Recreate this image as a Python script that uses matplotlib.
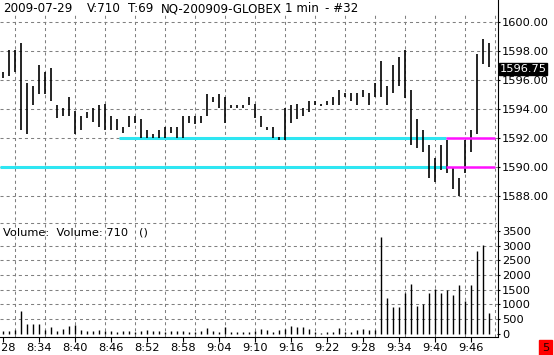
import matplotlib
matplotlib.use("Agg")
import matplotlib.pyplot as plt
from matplotlib.lines import Line2D

# ---------------- data ----------------
highs = [1596.56, 1598.05, 1598.05, 1598.52, 1595.77, 1595.58, 1597.02, 1596.56, 1596.84, 1594.27,
         1594.09, 1594.85, 1593.86, 1593.54, 1593.81, 1594.09, 1594.27, 1594.32, 1593.52, 1593.31,
         1592.74, 1593.52, 1593.54, 1593.31, 1592.56, 1592.28, 1592.56, 1592.74, 1592.74, 1592.74,
         1593.52, 1593.52, 1593.52, 1593.52, 1595.03, 1594.80, 1595.03, 1594.80, 1594.27, 1594.27,
         1594.27, 1594.80, 1594.32, 1593.52, 1592.74, 1592.74, 1592.05, 1594.05, 1594.27, 1594.32,
         1594.05, 1594.55, 1594.55, 1594.32, 1594.55, 1594.85, 1595.31, 1595.08, 1595.08, 1595.08,
         1595.31, 1595.08, 1595.81, 1597.30, 1595.58, 1597.02, 1597.55, 1598.05, 1595.31, 1593.31,
         1592.56, 1591.53, 1590.61, 1591.53, 1591.87, 1589.92, 1589.24, 1591.87, 1592.56, 1597.78,
         1598.81, 1598.52]
lows = [1596.11, 1596.29, 1596.56, 1592.56, 1592.28, 1594.27, 1595.03, 1595.03, 1594.57, 1593.36,
        1593.54, 1593.54, 1592.28, 1592.58, 1593.36, 1593.09, 1592.74, 1592.56, 1592.56, 1592.56,
        1592.33, 1592.78, 1593.02, 1592.03, 1592.03, 1592.03, 1592.03, 1592.03, 1592.33, 1592.03,
        1592.03, 1593.06, 1592.97, 1593.06, 1593.52, 1594.50, 1594.09, 1593.02, 1594.09, 1594.09,
        1594.09, 1594.27, 1593.36, 1592.78, 1592.56, 1592.03, 1591.90, 1591.90, 1593.06, 1593.31,
        1593.52, 1593.81, 1594.27, 1594.23, 1594.27, 1594.27, 1594.27, 1594.80, 1594.57, 1594.27,
        1594.85, 1594.27, 1594.85, 1594.85, 1594.27, 1595.08, 1595.58, 1594.74, 1591.53, 1591.30,
        1591.07, 1589.28, 1589.00, 1589.81, 1589.58, 1588.48, 1588.04, 1589.58, 1591.07, 1592.28,
        1597.07, 1596.87]
volumes = [80, 100, 120, 760, 340, 340, 330, 110, 230, 100,
           160, 260, 280, 110, 100, 90, 110, 80, 100, 70,
           90, 100, 60, 90, 110, 80, 90, 70, 100, 80,
           90, 70, 60, 100, 190, 90, 60, 220, 60, 50,
           70, 60, 90, 170, 130, 70, 110, 150, 250, 220,
           220, 150, 50, 30, 50, 50, 200, 50, 60, 120,
           150, 110, 110, 3300, 1230, 920, 920, 1400, 1700, 950,
           1000, 1400, 1510, 1400, 1490, 1320, 1660, 1125, 1660, 2830,
           3020, 710]
time_labels = ["8:28", "8:34", "8:40", "8:46", "8:52", "8:58", "9:04", "9:10",
               "9:16", "9:22", "9:28", "9:34", "9:40", "9:46"]
label_step = 6
price_levels = [1588, 1590, 1592, 1594, 1596, 1598, 1600]
vol_levels = [0, 500, 1000, 1500, 2000, 2500, 3000, 3500]
vol_grid = [500, 1000, 1500, 2000, 2500, 3000]
last_price = 1596.75
level_hi = 1592.0
level_lo = 1590.0

# ---------------- figure ----------------
W, H = 554, 355
plt.rcParams['lines.scale_dashes'] = False
plt.rcParams['font.family'] = ['DejaVu Sans']
fig = plt.figure(figsize=(W / 100, H / 100), dpi=100)
fig.patch.set_facecolor('white')

def fy(px):
    return (H - px) / H

xl, xr = -0.55, 82.283
ax_p = fig.add_axes([0, fy(220), 497 / W, (220 - 13) / H])
ax_v = fig.add_axes([0, fy(336.7), 497 / W, (336.7 - 220) / H])

grid_kw = dict(color='#808080', lw=0.75, ls=(0, (2.2, 2.2)), zorder=0)
xs = list(range(len(highs)))
vgrid_x = [1.95 + 5 * k for k in range(17)]

for ax in (ax_p, ax_v):
    ax.set_xlim(xl, xr)
    ax.set_facecolor('white')
    for s in ax.spines.values():
        s.set_visible(False)
    for gx in vgrid_x:
        ax.axvline(gx, **grid_kw)

# price pane
ax_p.set_ylim(1600 - (220 - 21.7) / 14.55, 1600 + (21.7 - 13) / 14.55)
for lv in price_levels:
    ax_p.axhline(lv, **grid_kw)
ax_p.vlines(xs, lows, highs, color='black', lw=1.2, zorder=3)

cyan = '#2ee6f2'
mag = '#ff10ff'
split = 73.8
ax_p.plot([19.2, split], [level_hi, level_hi], color=cyan, lw=2.2, zorder=2, solid_capstyle='butt')
ax_p.plot([xl, split], [level_lo, level_lo], color=cyan, lw=2.2, zorder=2, solid_capstyle='butt')
ax_p.plot([split, 81.9], [level_hi, level_hi], color=mag, lw=1.8, zorder=4, solid_capstyle='butt')
ax_p.plot([split, 81.9], [level_lo, level_lo], color=mag, lw=1.8, zorder=4, solid_capstyle='butt')

ax_p.set_xticks([])
ax_p.yaxis.tick_right()
ax_p.set_yticks(price_levels)
ax_p.set_yticklabels([f"{v:.2f}" for v in price_levels])
ax_p.tick_params(axis='y', length=2.4, width=0.8, pad=1.2, labelsize=8.2, colors='black')

ax_p.text(1.005, last_price, f"{last_price:.2f}", transform=ax_p.get_yaxis_transform(),
          ha='left', va='center', fontsize=8.2, color='white', zorder=10,
          bbox=dict(facecolor='black', edgecolor='black', pad=0.6))

# volume pane
ax_v.set_ylim((333.7 - 336.7) / 0.02934, (333.7 - 220) / 0.02934)
for lv in vol_grid:
    ax_v.axhline(lv, **grid_kw)
ax_v.axhline((333.7 - 222.7) / 0.02934, **grid_kw)
ax_v.vlines(xs, 0, volumes, color='black', lw=1.0, zorder=3)
ax_v.spines['bottom'].set_visible(True)
ax_v.spines['bottom'].set_linewidth(0.8)
ax_v.yaxis.tick_right()
ax_v.set_yticks(vol_levels)
ax_v.set_yticklabels([str(v) for v in vol_levels])
ax_v.tick_params(axis='y', length=2.4, width=0.8, pad=1.2, labelsize=8.2)
ax_v.set_xticks([i * label_step for i in range(len(time_labels))])
ax_v.set_xticklabels(time_labels)
ax_v.tick_params(axis='x', length=3.6, width=0.8, pad=1.0, labelsize=8.2)

# right axis line through both panes
fig.add_artist(Line2D([497.5 / W, 497.5 / W], [1.0, fy(336.7)], transform=fig.transFigure,
                      color='black', lw=0.8))

# header texts
hdr_y = fy(8.5)
for txt, px in [("2009-07-29", 3.3), ("V:710", 87.3), ("T:69", 128), ("NQ-200909-GLOBEX", 161),
                ("1 min", 285), ("- #32", 325)]:
    fig.text(px / W, hdr_y, txt, ha='left', va='center', fontsize=8.6, color='black')

fig.text(3.3 / W, fy(232.5), "Volume:  Volume: 710   ()", ha='left', va='center',
         fontsize=8.2, color='black')

fig.text(545.5 / W, fy(348), "5", ha='center', va='center', fontsize=8.2, color='#200000',
         bbox=dict(facecolor='#ff0000', edgecolor='#ff0000', pad=2.2))

fig.savefig("out.png", dpi=100, facecolor='white')
